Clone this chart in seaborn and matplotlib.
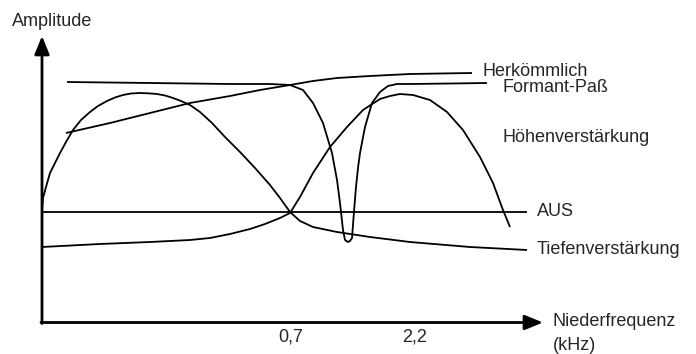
import pandas as pd
import numpy as np
import matplotlib
matplotlib.use("Agg")
import matplotlib.pyplot as plt
import seaborn as sns

# Kurven (Bildkoordinaten: x nach rechts, y nach unten)
herk_x = [66, 110, 150, 190, 230, 260, 290, 313, 337, 370, 410, 440, 472]
herk_y = [133, 123, 113, 103, 96, 90, 85, 81, 78, 76, 74, 73.5, 73]

formant_x = [67, 150, 230, 270, 290, 303, 313, 323, 332, 337, 340, 343, 345, 348, 350, 352, 353, 354.5, 356, 358, 360, 365, 372, 380, 388, 397, 410, 450, 487]
formant_y = [82, 83, 84, 84, 85, 90, 103, 123, 153, 180, 203, 230, 240, 242, 241, 238, 225, 205, 187, 168, 153, 127, 103, 92, 86, 84, 84, 83.5, 83]

tiefen_x = [42, 43, 46, 50, 55, 60, 66, 73, 81, 90, 98, 107, 115, 123, 131, 140, 148, 157, 165, 173, 181, 190, 200, 212, 225, 240, 255, 270, 280, 290, 300, 313, 337, 370, 410, 470, 527]
tiefen_y = [210, 198, 187, 173, 163, 153, 142, 130, 120, 112, 106, 101, 97.5, 95, 93.5, 93, 93.3, 94, 95.5, 98, 101, 105, 112, 123, 137, 152, 168, 185, 198, 212, 221, 227, 232, 237, 242, 247, 250]

hoehen_x = [42, 100, 150, 190, 210, 230, 250, 265, 280, 290, 300, 313, 330, 347, 363, 380, 390, 400, 413, 430, 447, 463, 480, 493, 503, 510]
hoehen_y = [247, 244, 242, 240, 238, 234, 229, 224, 218, 213, 197, 173, 147, 127, 110, 99, 96, 94, 95, 100, 112, 130, 157, 183, 210, 227]

aus_x = [42, 527]
aus_y = [212, 212]

kurven = [("Herkömmlich", herk_x, herk_y),
          ("Formant-Paß", formant_x, formant_y),
          ("Tiefenverstärkung", tiefen_x, tiefen_y),
          ("Höhenverstärkung", hoehen_x, hoehen_y),
          ("AUS", aus_x, aus_y)]

df = pd.concat([pd.DataFrame({"kurve": n, "x": xs, "y": ys})
                for n, xs, ys in kurven])

# Beschriftungen
labels = ["Herkömmlich", "Formant-Paß", "Höhenverstärkung", "AUS", "Tiefenverstärkung"]
label_x = [483, 503, 503, 537, 537]
label_y = [71, 87, 138, 212, 249]

tick_labels = ["0,7", "2,2"]
tick_x = [291, 415]

sns.set_style("white")
plt.rcParams['font.family'] = ['Liberation Sans', 'DejaVu Sans']

fig = plt.figure(figsize=(6.96, 3.54), dpi=100)
ax = fig.add_axes([0, 0, 1, 1])

sns.lineplot(data=df, x="x", y="y", units="kurve", estimator=None, sort=False,
             color="black", linewidth=1.3, ax=ax, legend=False,
             solid_joinstyle="round", solid_capstyle="butt")

# Achsen mit Pfeilen
ax.annotate("", xy=(42, 36), xytext=(42, 323.5),
            arrowprops=dict(arrowstyle="-|>,head_length=1.1,head_width=0.45",
                            lw=2, color="black", shrinkA=0, shrinkB=0))
ax.annotate("", xy=(543, 322.5), xytext=(41, 322.5),
            arrowprops=dict(arrowstyle="-|>,head_length=1.1,head_width=0.45",
                            lw=2, color="black", shrinkA=0, shrinkB=0))

fs = 13
for t, lx, ly in zip(labels, label_x, label_y):
    ax.text(lx, ly, t, fontsize=fs, ha="left", va="center")
for t, tx in zip(tick_labels, tick_x):
    ax.text(tx, 337, t, fontsize=fs, ha="center", va="center")

ax.text(52, 21, "Amplitude", fontsize=fs, ha="center", va="center")
ax.text(553, 322, "Niederfrequenz", fontsize=fs, ha="left", va="center")
ax.text(553, 345, "(kHz)", fontsize=fs, ha="left", va="center")

ax.set_xlim(0, 696)
ax.set_ylim(354, 0)
ax.axis("off")

fig.savefig("out.png", dpi=100)
